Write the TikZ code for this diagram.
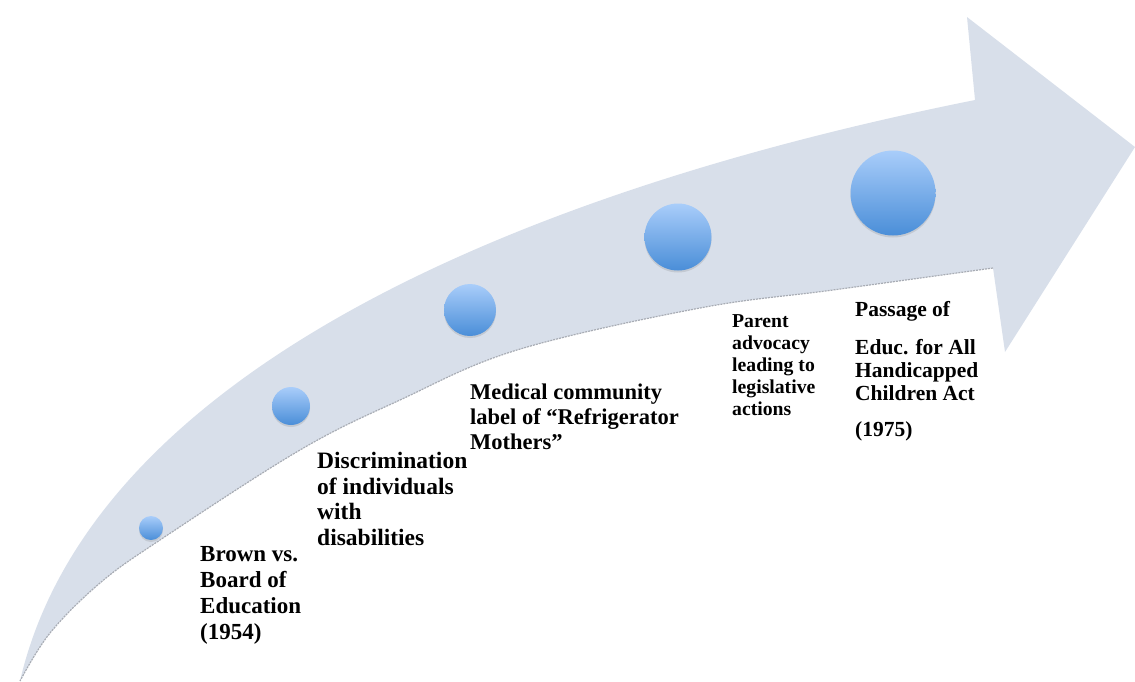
\documentclass[tikz,border=0pt]{standalone}
\usepackage{fontspec}
\setmainfont{Liberation Serif}
\usetikzlibrary{shadows}
\definecolor{arrowfill}{HTML}{D8DFEA}
\definecolor{dottop}{HTML}{A9CDFA}
\definecolor{dotbot}{HTML}{4A8ED8}
\definecolor{edgegray}{HTML}{A8ACB4}
\tikzset{
  dot/.style={circle, inner sep=0pt, top color=dottop, bottom color=dotbot, draw=none,
    drop shadow={opacity=0.18, shadow xshift=0pt, shadow yshift=-2pt, fill=black!60}},
  lab/.style={anchor=north west, inner sep=0pt, align=left, text=black},
}
\begin{document}
\begin{tikzpicture}[x=1pt,y=-1pt]
\useasboundingbox (0,0) rectangle (1135,681);
\clip (0,0) rectangle (1135,681);
% arrow body
\fill[arrowfill] (20,681) .. controls (90,380) and (500,195) .. (975,100)
  -- (967,17) -- (1135,147) -- (1005,352) -- (993,268)
  -- plot[smooth, tension=0.6] coordinates {(993,268) (833,290) (700,308) (517,350) (400,400) (300,450) (160,540) (100,583) (50,633) (20,681)} -- cycle;
% soft lower edge
\draw[edgegray, line width=1.2pt, dash pattern=on 2pt off 1pt] plot[smooth, tension=0.6] coordinates {(993,268) (833,290) (700,308) (517,350) (400,400) (300,450) (160,540) (100,583) (50,633) (20,681)};
% dots
\node[dot, minimum size=24pt] (c1) at (151,528) {};
\node[dot, minimum size=38pt] (c2) at (291,406) {};
\node[dot, minimum size=52pt] (c3) at (470,310) {};
\node[dot, minimum size=67pt] (c4) at (678,237) {};
\node[dot, minimum size=85pt] (c5) at (893,193) {};
% labels
\node[lab, font=\fontsize{23}{26}\selectfont\bfseries] (t1) at (200,546) {Brown vs.\\Board of\\Education\\(1954)};
\node[lab, font=\fontsize{23.5}{25.5}\selectfont\bfseries] (t2) at (317,452) {Discrimination\\of individuals\\with\\disabilities};
\node[lab, font=\fontsize{22.5}{25}\selectfont\bfseries] (t3) at (470,384) {Medical community\\label of “Refrigerator\\Mothers”};
\node[lab, font=\fontsize{19.7}{22}\selectfont\bfseries] (t4) at (732,314) {Parent\\advocacy\\leading to\\legislative\\actions};
\node[lab, font=\fontsize{21.5}{23}\selectfont\bfseries] (t5) at (855,301) {Passage of\\[15pt]Educ. for All\\Handicapped\\Children Act\\[13pt](1975)};
\end{tikzpicture}
\end{document}
